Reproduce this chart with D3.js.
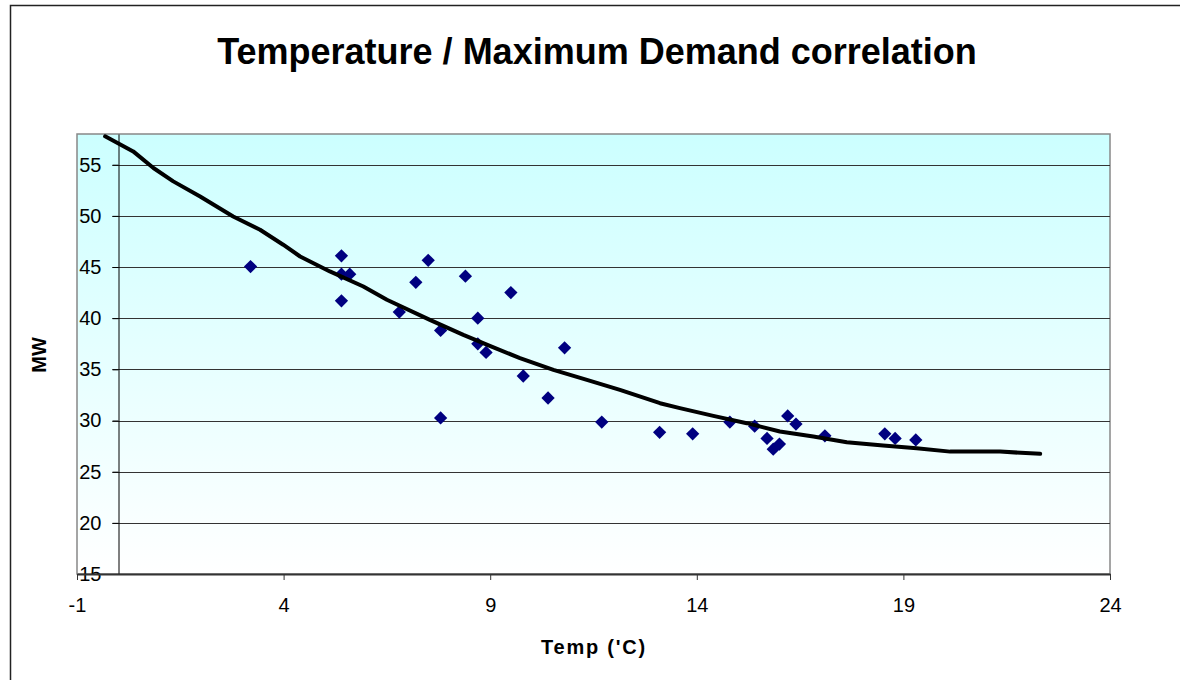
<!DOCTYPE html>
<html>
<head>
<meta charset="utf-8">
<script src="https://cdn.jsdelivr.net/npm/d3@7"></script>
<style>
  html, body { margin: 0; padding: 0; background: #fff; overflow: hidden; }
  svg { display: block; }
  text { font-family: "Liberation Sans", Arial, sans-serif; fill: #000; }
</style>
</head>
<body>
<script>
// scatter data: temperature vs maximum demand
var temps  = [3.2, 5.4, 5.4, 5.6, 5.4, 6.8, 7.2, 7.5, 7.8, 7.8, 8.4, 8.7, 8.7, 8.9, 9.5, 9.8,
              10.4, 10.8, 11.7, 13.1, 13.9, 14.8, 15.4, 15.7, 15.85, 16.0, 16.2, 16.4, 17.1, 18.55, 18.8, 19.3];
var demand = [45.05, 46.1, 44.3, 44.3, 41.7, 40.6, 43.5, 45.65, 38.8, 30.25, 44.1, 40.0, 37.5, 36.65, 42.5, 34.35,
              32.2, 37.1, 29.85, 28.85, 28.7, 29.85, 29.45, 28.25, 27.2, 27.7, 30.45, 29.65, 28.5, 28.7, 28.25, 28.1];

// trendline
var trendX = [-0.32, 0.36, 0.85, 1.33, 1.98, 2.78, 3.43, 3.99, 4.40, 5.12, 5.93, 6.50, 7.54, 8.35, 8.99, 9.72,
              10.53, 11.34, 12.14, 13.11, 13.59, 14.40, 15.21, 16.01, 16.82, 17.63, 18.51, 19.32, 20.13, 21.34, 22.31];
var trendY = [57.77, 56.30, 54.68, 53.37, 51.90, 49.94, 48.64, 47.18, 46.03, 44.57, 43.10, 41.80, 39.84, 38.37, 37.30, 36.10,
              34.95, 33.97, 33.00, 31.69, 31.21, 30.45, 29.74, 28.92, 28.43, 27.88, 27.55, 27.29, 26.96, 26.96, 26.74];

var xTicks = [-1, 4, 9, 14, 19, 24];
var yTicks = [15, 20, 25, 30, 35, 40, 45, 50, 55];

var W = 1180, H = 680;
var plot = {left: 77, right: 1110, top: 134, bottom: 574};

var x = d3.scaleLinear().domain([-1, 24]).range([plot.left, plot.right]);
var y = d3.scaleLinear().domain([15, 58]).range([plot.bottom, plot.top]);

var svg = d3.select("body").append("svg")
  .attr("width", W)
  .attr("height", H);

// chart frame: only left and top edges fall inside the picture
svg.append("path")
  .attr("d", "M10.5," + H + "V5.5H" + W)
  .style("fill", "none")
  .style("stroke", "#222")
  .style("stroke-width", 1.5);

// plot background gradient
var grad = svg.append("defs").append("linearGradient")
  .attr("id", "bg")
  .attr("x1", 0).attr("y1", 0).attr("x2", 0).attr("y2", 1);
grad.append("stop").attr("offset", "0%").attr("stop-color", "#ccffff");
grad.append("stop").attr("offset", "100%").attr("stop-color", "#ffffff");

svg.append("rect")
  .attr("x", plot.left).attr("y", plot.top)
  .attr("width", plot.right - plot.left)
  .attr("height", plot.bottom - plot.top)
  .style("fill", "url(#bg)")
  .style("stroke", "#888")
  .style("stroke-width", 1.5);

// horizontal gridlines
svg.append("g").selectAll("line")
  .data(yTicks.slice(1))
  .enter().append("line")
  .attr("x1", x(0) - 6)
  .attr("x2", plot.right)
  .attr("y1", function(d) { return Math.round(y(d)) + 0.5; })
  .attr("y2", function(d) { return Math.round(y(d)) + 0.5; })
  .style("stroke", "#333")
  .style("stroke-width", 1.2);

var fmt = function(d) { return String(d); }; // plain hyphen for -1

// y-axis crosses at x = 0
var yAxis = d3.axisLeft(y).tickValues(yTicks).tickFormat(fmt)
  .tickSize(6).tickSizeOuter(0).tickPadding(11);
var gy = svg.append("g")
  .attr("transform", "translate(" + (Math.round(x(0)) + 0.5) + ",0)")
  .call(yAxis);
gy.select(".domain").style("stroke", "#000");
gy.selectAll(".tick line").style("stroke", "#000");
gy.selectAll(".tick text")
  .style("font-family", "'Liberation Sans', Arial, sans-serif")
  .style("font-size", "20px")
  .style("fill", "#000");

// x-axis at the bottom
var xAxis = d3.axisBottom(x).tickValues(xTicks).tickFormat(fmt)
  .tickSize(6).tickSizeOuter(0).tickPadding(18);
var gx = svg.append("g")
  .attr("transform", "translate(0," + plot.bottom + ")")
  .call(xAxis);
gx.select(".domain").style("stroke", "#333").style("stroke-width", 2);
gx.selectAll(".tick line").style("stroke", "#333");
gx.selectAll(".tick text")
  .style("font-family", "'Liberation Sans', Arial, sans-serif")
  .style("font-size", "20px")
  .style("fill", "#000");

// points
var sym = d3.symbol().type(d3.symbolSquare).size(88);
svg.append("g").selectAll("path")
  .data(temps)
  .enter().append("path")
  .attr("d", sym)
  .attr("transform", function(d, i) {
    return "translate(" + x(d) + "," + y(demand[i]) + ") rotate(45)";
  })
  .style("fill", "#000080");

// trendline
var trend = trendX.map(function(d, i) { return [d, trendY[i]]; });
var line = d3.line()
  .x(function(d) { return x(d[0]); })
  .y(function(d) { return y(d[1]); });
svg.append("path")
  .datum(trend)
  .attr("d", line)
  .style("fill", "none")
  .style("stroke", "#000")
  .style("stroke-width", 4)
  .style("stroke-linejoin", "round")
  .style("stroke-linecap", "round");

// titles
svg.append("text")
  .attr("x", 597).attr("y", 64)
  .style("text-anchor", "middle")
  .style("font-size", "36px")
  .style("font-weight", "bold")
  .text("Temperature / Maximum Demand correlation");

svg.append("text")
  .attr("x", 594).attr("y", 654)
  .style("text-anchor", "middle")
  .style("font-size", "20px")
  .style("font-weight", "bold")
  .style("letter-spacing", "1.8px")
  .text("Temp ('C)");

svg.append("text")
  .attr("transform", "translate(46,355) rotate(-90)")
  .style("text-anchor", "middle")
  .style("font-size", "20px")
  .style("font-weight", "bold")
  .text("MW");
</script>
</body>
</html>
